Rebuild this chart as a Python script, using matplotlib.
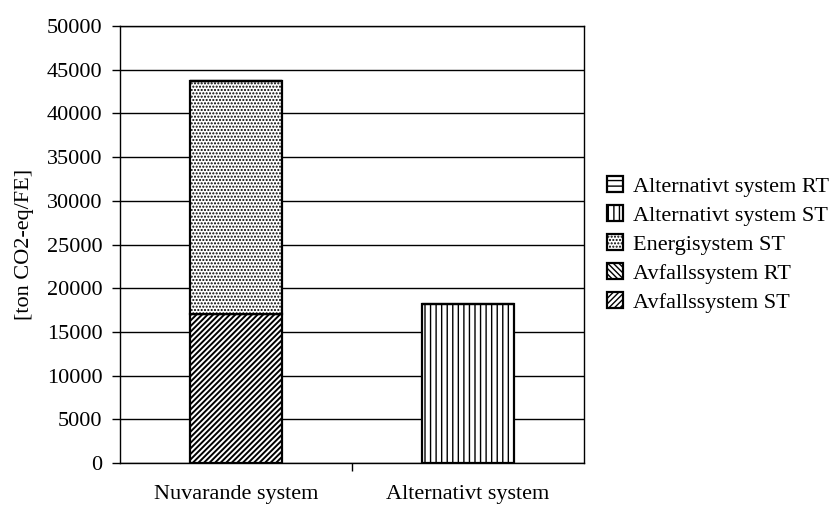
import matplotlib.pyplot as plt
import numpy as np

plt.rcParams['font.family'] = ['Liberation Serif', 'DejaVu Serif']
plt.rcParams['hatch.linewidth'] = 1.0

kategorier = ['Nuvarande system', 'Alternativt system']
# staplade serier, nerifrån och upp
avfall_st = [17000, 0]
avfall_rt = [0, 0]
energi_st = [26700, 0]
alt_st = [0, 18200]
alt_rt = [0, 0]

serier = [
    ('Avfallssystem ST', avfall_st, '//////', 1.4),
    ('Avfallssystem RT', avfall_rt, '\\\\\\\\\\\\', 1.4),
    ('Energisystem ST', energi_st, '.....', 1.0),
    ('Alternativt system ST', alt_st, '|||', 1.0),
    ('Alternativt system RT', alt_rt, '---', 1.4),
]

fig = plt.figure(figsize=(8.32, 5.07), dpi=100)
ax = fig.add_axes([0.1442, 0.0868, 0.702 - 0.1442, 0.9487 - 0.0868])

x = np.arange(len(kategorier))
botten = np.zeros(len(kategorier))
for namn, varden, monster, hlw in serier:
    v = np.array(varden, dtype=float)
    with plt.rc_context({'hatch.linewidth': hlw}):
        b = ax.bar(x, v, width=0.4, bottom=botten, color='white', edgecolor='black',
                   hatch=monster, linewidth=1.6, label=namn, zorder=3)
    for p in b:
        if hasattr(p, 'set_hatch_linewidth'):
            p.set_hatch_linewidth(hlw)
    botten += v

ax.set_xlim(-0.5, 1.5)
ax.set_ylim(0, 50000)
ax.set_yticks(np.arange(0, 50001, 5000))
ax.yaxis.grid(True, color='black', linewidth=1.0, zorder=0)
ax.set_axisbelow(True)

ax.set_xticks(x)
ax.set_xticklabels(kategorier, fontsize=16)
ax.tick_params(axis='x', length=0, pad=16)
ax.set_xticks([0.5], minor=True)
ax.tick_params(axis='x', which='minor', length=6, width=1, direction='out')
ax.tick_params(axis='y', labelsize=16, length=5.5, width=1, direction='out', pad=7)

for s in ['left', 'bottom', 'right', 'top']:
    ax.spines[s].set_linewidth(1.0)
    ax.spines[s].set_color('black')

ax.set_ylabel('[ton CO2-eq/FE]', fontsize=16)
ax.yaxis.set_label_coords(-0.185, 0.5)

h, l = ax.get_legend_handles_labels()
ax.legend(h[::-1], l[::-1], loc='center left', bbox_to_anchor=(1.05, 0.5),
          frameon=False, fontsize=16, handlelength=0.7, handleheight=0.7,
          handletextpad=0.45, labelspacing=0.38, borderaxespad=0, borderpad=0)

fig.savefig('out.png', dpi=100)
